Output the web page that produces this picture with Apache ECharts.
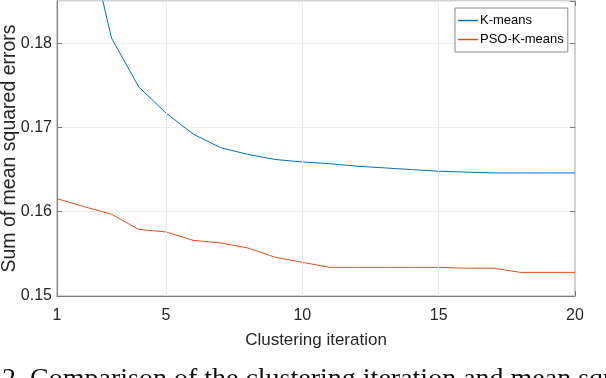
<!DOCTYPE html>
<html>
<head>
<meta charset="utf-8">
<script src="https://cdn.jsdelivr.net/npm/echarts@6/dist/echarts.min.js"></script>
<style>
  html, body { margin: 0; padding: 0; background: #fff; }
  #chart { width: 606px; height: 378px; }
</style>
</head>
<body>
<div id="chart"></div>
<script>
// 迭代次数
const iterations = [1, 2, 3, 4, 5, 6, 7, 8, 9, 10, 11, 12, 13, 14, 15, 16, 17, 18, 19, 20];
const kmeansErr = [0.215, 0.1944, 0.1806, 0.1748, 0.1717, 0.1692, 0.1676, 0.1668, 0.1662, 0.1659,
  0.1657, 0.1654, 0.1652, 0.1650, 0.1648, 0.1647, 0.1646, 0.1646, 0.1646, 0.1646];
const psoErr = [0.16155, 0.1606, 0.1597, 0.1579, 0.1576, 0.1566, 0.1563, 0.1557, 0.1546, 0.1540,
  0.1534, 0.1534, 0.1534, 0.1534, 0.1534, 0.1533, 0.1533, 0.1528, 0.1528, 0.1528];
const xTicks = [1, 5, 10, 15, 20];
const seriesNames = ['K-means', 'PSO-K-means'];

const chart = echarts.init(document.getElementById('chart'));
const font = 'Liberation Sans';
const axisGray = '#7a7a7a';

const toPairs = (arr) => arr.map((v, i) => [iterations[i], v]);

const option = {
  animation: false,
  grid: {
    left: 57, right: 31, top: 1, bottom: 82,
    containLabel: false, outerBoundsMode: 'none',
    show: true, borderColor: '#c4c4c4', borderWidth: 1.5
  },
  legend: {
    data: seriesNames,
    orient: 'vertical',
    left: 455,
    top: 8,
    padding: [5, 4, 5, 3],
    icon: 'rect',
    itemWidth: 20,
    itemHeight: 1.5,
    itemGap: 4,
    borderColor: '#8a8a8a',
    borderWidth: 1,
    backgroundColor: '#fff',
    textStyle: { fontFamily: font, fontSize: 13, color: '#000', padding: [0, 0, 0, -3], lineHeight: 15 }
  },
  xAxis: [{
    type: 'value',
    min: 1,
    max: 20,
    name: 'Clustering iteration',
    nameLocation: 'middle',
    nameGap: 36,
    nameMoveOverlap: false,
    nameTextStyle: { fontFamily: font, fontSize: 17, color: '#262626' },
    axisLine: { lineStyle: { color: axisGray } },
    axisTick: { inside: true, length: 5, customValues: xTicks, lineStyle: { color: axisGray } },
    axisLabel: { customValues: xTicks, margin: 12, fontFamily: font, fontSize: 16, color: '#262626' },
    splitLine: { show: false }
  }, {
    type: 'value',
    position: 'top',
    min: 1,
    max: 20,
    axisLine: { show: false },
    axisTick: { inside: true, length: 5, customValues: xTicks, lineStyle: { color: axisGray } },
    axisLabel: { show: false },
    splitLine: { show: false }
  }],
  yAxis: [{
    type: 'value',
    min: 0.15,
    max: 0.185,
    interval: 0.01,
    name: 'Sum of mean squared errors',
    nameLocation: 'middle',
    nameGap: 37,
    nameMoveOverlap: false,
    nameTextStyle: { fontFamily: font, fontSize: 19.5, color: '#262626' },
    axisLine: { show: true, lineStyle: { color: axisGray } },
    axisTick: { show: true, inside: true, length: 5, lineStyle: { color: axisGray } },
    axisLabel: {
      margin: 5, fontFamily: font, fontSize: 16, color: '#262626',
      showMaxLabel: false,
      formatter: (v) => v.toFixed(2)
    },
    splitLine: { lineStyle: { color: '#ebebeb', width: 1 } }
  }, {
    type: 'value',
    position: 'right',
    min: 0.15,
    max: 0.185,
    interval: 0.01,
    axisLine: { show: false },
    axisTick: { show: true, inside: true, length: 5, lineStyle: { color: axisGray } },
    axisLabel: { show: false },
    splitLine: { show: false }
  }],
  series: [{
    name: seriesNames[0],
    type: 'line',
    data: toPairs(kmeansErr),
    symbol: 'none',
    lineStyle: { color: '#0072BD', width: 1 },
    itemStyle: { color: '#0072BD' },
    // 竖向网格线
    markLine: {
      silent: true,
      symbol: 'none',
      label: { show: false },
      lineStyle: { color: '#ebebeb', type: 'solid', width: 1 },
      data: xTicks.slice(1, -1).map((v) => ({ xAxis: v }))
    },
    z: 3
  }, {
    name: seriesNames[1],
    type: 'line',
    data: toPairs(psoErr),
    symbol: 'none',
    lineStyle: { color: '#D95319', width: 1 },
    itemStyle: { color: '#D95319' },
    z: 3
  }],
  graphic: [{
    type: 'text',
    left: 2,
    top: 366,
    style: {
      text: '2. Comparison of the clustering iteration and mean squared errors',
      font: '28px "Liberation Serif"',
      fill: '#111'
    }
  }]
};
chart.setOption(option);
</script>
</body>
</html>
